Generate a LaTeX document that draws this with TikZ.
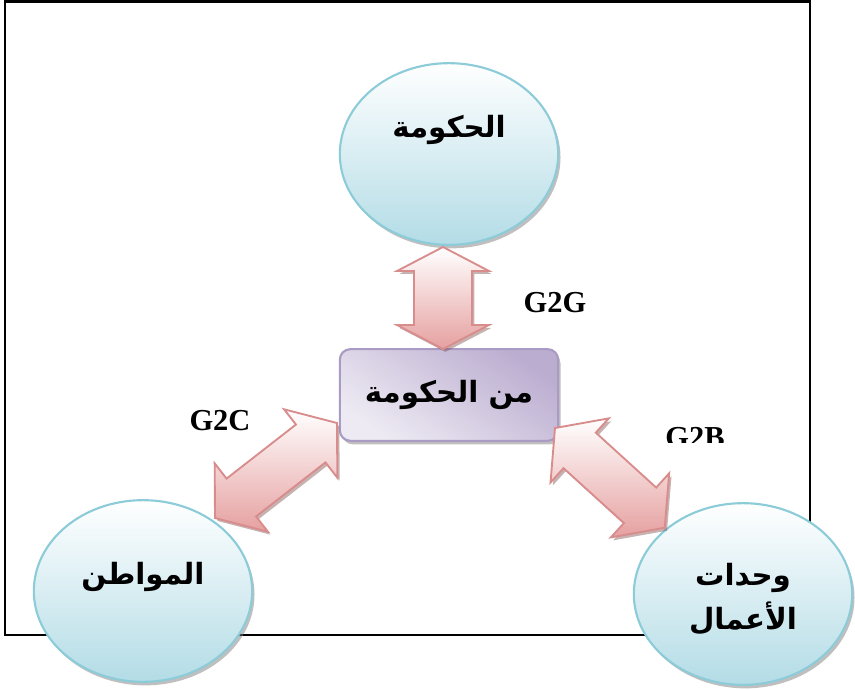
\documentclass[tikz,border=0pt]{standalone}
\usepackage{fontspec}
\setmainfont{Liberation Serif}
\newfontfamily\arabicfont[Script=Arabic]{DejaVu Sans}
\TeXXeTstate=1
\usetikzlibrary{shapes.geometric,shadows,calc}

\definecolor{skyline}{HTML}{8CCBD8}
\definecolor{skyfill}{HTML}{B3DCE6}
\definecolor{lilacline}{HTML}{A99BC3}
\definecolor{lilacfill}{HTML}{BBADD0}
\definecolor{roseline}{HTML}{D98C8C}
\definecolor{rosefill}{HTML}{E6A0A0}

\tikzset{
  party/.style={ellipse,draw=skyline,line width=1.8pt,top color=white,bottom color=skyfill,
    minimum width=6.55cm,minimum height=5.45cm,
    drop shadow={shadow xshift=2pt,shadow yshift=-3pt,opacity=.5}},
  hub/.style={rectangle,rounded corners=9pt,draw=lilacline,line width=1.8pt,
    top color=lilacfill,bottom color=lilacfill!25!white,shading angle=-35,
    minimum width=6.55cm,minimum height=2.75cm,
    drop shadow={shadow xshift=2pt,shadow yshift=-3pt,opacity=.5}},
  fatarrow/.style={draw=roseline,line width=1.6pt,top color=white,bottom color=rosefill,
    drop shadow={shadow xshift=2pt,shadow yshift=-2.5pt,opacity=.45,fill=roseline!60!black}},
  arlabel/.style={font=\fontsize{25}{38}\selectfont\arabicfont\bfseries,align=center},
  tag/.style={font=\fontsize{26}{30}\selectfont\bfseries}
}

% double arrow from #2 to #3, sizes in \hl, \hw, \sw
\newcommand\gtwoarrow[3][]{%
  \path[fatarrow,#1] let \p1=(#2), \p2=(#3),
    \n1={atan2(\y2-\y1,\x2-\x1)}, \n2={veclen(\x2-\x1,\y2-\y1)} in
    {[shift={(\p1)},rotate=\n1]
     (0pt,0pt) -- (\hl,\hw) -- (\hl,\sw) -- ({\n2-\hl},\sw) -- ({\n2-\hl},\hw)
     -- (\n2,0pt) -- ({\n2-\hl},-\hw) -- ({\n2-\hl},-\sw) -- (\hl,-\sw)
     -- (\hl,-\hw) -- cycle};
}

\begin{document}
\begin{tikzpicture}[x=0.03cm,y=0.03cm]
\useasboundingbox (0,0) rectangle (855,-690);

\draw[line width=2pt] (5,-1.5) rectangle (810,-635);

% the three parties and the hub
\node[party,label={[arlabel,yshift=0.72cm]center:\beginR الحكومة\endR}] (gov) at (449,-154) {};
\node[party,label={[arlabel,yshift=0.42cm]center:\beginR المواطن\endR}] (citizen) at (143,-591) {};
\node[party,label={[arlabel,yshift=-0.15cm]center:\beginR وحدات\endR\\\beginR الأعمال\endR}] (business) at (743,-594) {};
\node[hub,arlabel] (hub) at (449,-395) {\beginR من الحكومة\endR};

% arrow ends
\coordinate (g2g-a) at (443,-247);
\coordinate (g2g-b) at (443,-349);
\coordinate (g2c-a) at (337,-423);
\coordinate (g2c-b) at (215,-518);
\coordinate (g2b-a) at (555,-428);
\coordinate (g2b-b) at (665,-528);

\def\hl{0.72cm}\def\hw{1.38cm}\def\sw{0.87cm}
\gtwoarrow{g2g-a}{g2g-b}
\def\hl{1cm}\def\hw{1.3cm}\def\sw{0.72cm}
\gtwoarrow{g2c-a}{g2c-b}
\gtwoarrow{g2b-a}{g2b-b}

\node[tag] (g2g) at (555,-303) {G2G};
\node[tag] (g2c) at (220,-421) {G2C};
\begin{scope}
\clip (640,-415) rectangle (760,-442);
\node[tag] (g2b) at (695,-438) {G2B};
\end{scope}
\end{tikzpicture}
\end{document}
